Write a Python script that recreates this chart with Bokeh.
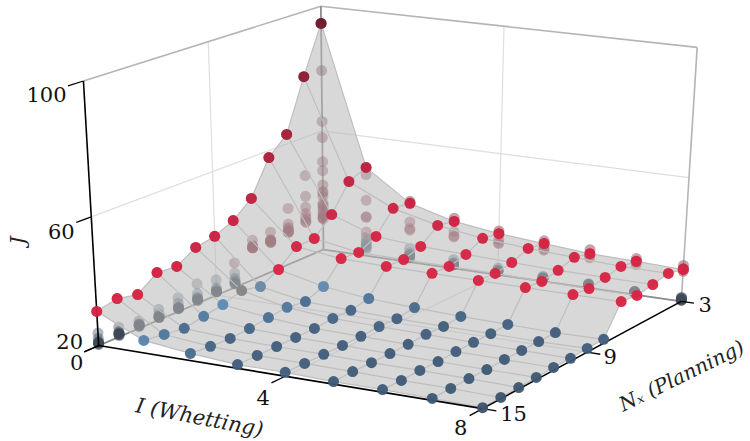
import numpy as np
from bokeh.plotting import figure
from bokeh.embed import file_html
from bokeh.resources import INLINE
from bokeh.core.properties import value

# ---- data: J on a grid of I (whetting) and Nx (planning) ----
I_values = [0, 1, 2, 3, 4, 5, 6, 7, 8]
Nx_values = [15, 14, 13, 12, 11, 10, 9, 8, 7, 6, 5, 4, 3]
J_I0 = [30.8, 32.2, 30.8, 35.2, 34.6, 38.2, 39.3, 42.0, 46.8, 57.8, 63.1, 79.6, 94.6]
J_I1 = [24.0, 23.1, 22.3, 23.4, 24.5, 26.4, 25.1, 28.1, 33.1, 33.3, 38.8, 47.4, 49.8]
J_I2 = [22.3, 21.7, 21.4, 21.8, 22.6, 23.2, 22.4, 24.7, 31.3, 30.8, 33.6, 40.5, 39.8]
J_I3 = [21.2, 21.2, 21.2, 21.3, 21.4, 21.9, 21.8, 23.0, 30.9, 30.6, 32.4, 36.9, 35.8]
J_I4 = [21.2, 21.1, 21.1, 21.1, 21.2, 21.6, 21.4, 22.3, 30.8, 30.5, 31.9, 34.7, 33.8]
J_I5 = [20.8, 21.0, 20.9, 20.9, 21.0, 21.4, 21.2, 21.7, 30.7, 30.4, 31.4, 33.5, 32.6]
J_I6 = [20.8, 20.7, 20.9, 20.8, 21.1, 21.2, 21.2, 21.4, 30.6, 30.0, 31.0, 32.7, 31.4]
J_I7 = [20.6, 20.7, 20.8, 20.7, 21.0, 21.0, 21.0, 21.1, 30.6, 29.9, 30.9, 31.9, 31.0]
J_I8 = [20.3, 20.4, 20.5, 20.7, 20.9, 20.9, 21.2, 21.3, 30.6, 29.9, 30.8, 31.8, 30.5]
J_rows = [J_I0, J_I1, J_I2, J_I3, J_I4, J_I5, J_I6, J_I7, J_I8]

I_ticks = [0, 4, 8]
Nx_ticks = [3, 9, 15]
J_ticks = [20, 60, 100]
I_label = "I (Whetting)"
Nx_label = "N\u2093 (Planning)"
J_label = "J"

# ---- camera: calibrated from the box of the 3D axes ----
box_anchor = [((0,15,20),(98,345)),((8,15,20),(482,408)),((8,3,20),(681,301)),((0,3,20),(323,249)),
              ((0,15,100),(83,80)),((0,3,100),(320,6)),((8,3,100),(697,47)),
              ((0,15,60),(91,217)),((0,3,60),(322,130)),((8,3,60),(688,177))]
def norm(i, nx, j):
    return np.array([i/8, (15-nx)/12, (j-20)/80, 1.0])
A = []
for (i, nx, j), (x, y) in box_anchor:
    X = norm(i, nx, j)
    A.append(np.r_[X, 0*X, -x*X]); A.append(np.r_[0*X, X, -y*X])
CAM = np.linalg.svd(np.array(A))[2][-1].reshape(3, 4)
def proj(i, nx, j):
    h = CAM @ norm(i, nx, j)
    return float(h[0]/h[2]), float(h[1]/h[2])
def seg(a, b):
    pa, pb = proj(*a), proj(*b)
    return [pa[0], pb[0]], [pa[1], pb[1]]

# ---- colour of a point from its J ----
stops_J = [20, 22, 24.5, 26.4, 28, 45, 95]
stops_rgb = [(0x3a,0x50,0x68),(0x44,0x66,0x88),(0x5a,0x8a,0xb5),(0x85,0x85,0x85),(0xdc,0x22,0x42),(0xc4,0x20,0x40),(0x70,0x1a,0x2e)]
def rgb(j):
    return [float(np.interp(j, stops_J, [s[k] for s in stops_rgb])) for k in range(3)]
def hexa(c):
    return "#%02x%02x%02x" % tuple(int(round(v)) for v in c)
def colour(j):
    return hexa(rgb(j))
def shadow_colour(j):
    c = rgb(j)
    g = sum(c) / 3
    return hexa([(0.55*v + 0.45*g) * 0.8 for v in c])

p = figure(width=750, height=441, x_range=(0, 750), y_range=(441, 0),
           output_backend="svg", toolbar_location=None, min_border=0,
           outline_line_color=None, background_fill_color="white")
p.axis.visible = False
p.grid.visible = False

# ---- walls and floor: grid ----
GRID = "#dedede"
BOX = "#b4b4b4"
grid_lines = [((0,15,60),(0,3,60)), ((0,3,60),(8,3,60)),
              ((0,9,20),(0,9,100)), ((4,3,20),(4,3,100)),
              ((4,15,20),(4,3,20)), ((0,9,20),(8,9,20))]
for a, b in grid_lines:
    xs, ys = seg(a, b); p.line(xs, ys, line_color=GRID, line_width=1.2)
box_lines = [((0,15,100),(0,3,100)), ((0,3,100),(8,3,100)), ((8,3,100),(8,3,20))]
for a, b in box_lines:
    xs, ys = seg(a, b); p.line(xs, ys, line_color=BOX, line_width=1.6)
for a, b in [((0,3,20),(0,3,100)), ((0,3,20),(0,15,20)), ((0,3,20),(8,3,20))]:
    xs, ys = seg(a, b); p.line(xs, ys, line_color="#8c8c8c", line_width=1.8)

# ---- shadows of the points on the two back walls ----
gx, gy, gc = [], [], []
for a, i in enumerate(I_values):
    for b, nx in enumerate(Nx_values):
        j = J_rows[a][b]
        for q in ((0, nx, j), (i, 3, j)):
            x, y = proj(*q); gx.append(x); gy.append(y); gc.append(shadow_colour(j))
p.scatter(gx, gy, size=11, fill_color=gc, fill_alpha=0.45, line_color=None)

# ---- surface ----
qx, qy = [], []
for a in range(len(I_values)-1):
    for b in range(len(Nx_values)-1):
        c = [(a,b),(a+1,b),(a+1,b+1),(a,b+1)]
        pts = [proj(I_values[u], Nx_values[v], J_rows[u][v]) for u, v in c]
        qx.append([t[0] for t in pts]); qy.append([t[1] for t in pts])
p.patches(qx, qy, fill_color="#b8b8b8", fill_alpha=0.55, line_color=None)
MESH = "#bebebe"
for a, i in enumerate(I_values):
    pts = [proj(i, Nx_values[b], J_rows[a][b]) for b in range(len(Nx_values))]
    p.line([t[0] for t in pts], [t[1] for t in pts], line_color=MESH, line_width=1.2)
for b, nx in enumerate(Nx_values):
    pts = [proj(I_values[a], nx, J_rows[a][b]) for a in range(len(I_values))]
    p.line([t[0] for t in pts], [t[1] for t in pts], line_color=MESH, line_width=1.2)

# ---- axes ----
for a, b in [((0,15,20),(8,15,20)), ((8,15,20),(8,3,20)), ((0,15,20),(0,15,100))]:
    xs, ys = seg(a, b); p.line(xs, ys, line_color="black", line_width=1.6)
for t in I_ticks:
    xs, ys = seg((t,15,20),(t,15.7,20)); p.line(xs, ys, line_color="black", line_width=1.3)
for t in Nx_ticks:
    xs, ys = seg((8,t,20),(8.27,t,20)); p.line(xs, ys, line_color="black", line_width=1.3)
for t in J_ticks:
    xs, ys = seg((0,15,t),(0,15.7,t)); p.line(xs, ys, line_color="black", line_width=1.3)

# ---- points, far to near ----
order = sorted(((a, b) for a in range(len(I_values)) for b in range(len(Nx_values))),
               key=lambda t: I_values[t[0]]/8 + (Nx_values[t[1]]-3)/12)
px, py, pc = [], [], []
for a, b in order:
    x, y = proj(I_values[a], Nx_values[b], J_rows[a][b])
    px.append(x); py.append(y); pc.append(colour(J_rows[a][b]))
p.scatter(px, py, size=11, fill_color=pc, fill_alpha=0.95, line_color=None)

# ---- labels ----
SERIF = value("DejaVu Serif")
def label(x, y, s, size="21px", angle=0.0, style="normal", color="#111111"):
    p.text([x], [y], text=[s], text_font=SERIF, text_font_size=size, text_font_style=style,
           text_color=color, text_align="center", text_baseline="middle", angle=angle)
for t, (dx, dy) in zip(I_ticks, [(-22, 17), (-22, 21), (-22, 19)]):
    x, y = proj(t, 15, 20); label(x+dx, y+dy, str(t))
for t, (dx, dy) in zip(Nx_ticks, [(24, 3), (23, 4), (31, 5)]):
    x, y = proj(8, t, 20); label(x+dx, y+dy, str(t))
for t, (dx, dy) in zip(J_ticks, [(-29, -4), (-30, 15), (-37, 14)]):
    x, y = proj(0, 15, t); label(x+dx, y+dy, str(t))
label(199, 417, I_label, size="21px", angle=np.radians(-11), style="italic", color="#222222")
label(681, 375, Nx_label, size="20px", angle=np.radians(26), style="italic", color="#222222")
label(17, 240, J_label, size="21px", angle=np.radians(90), style="italic", color="#222222")

open("out.html", "w").write(file_html(p, INLINE))
